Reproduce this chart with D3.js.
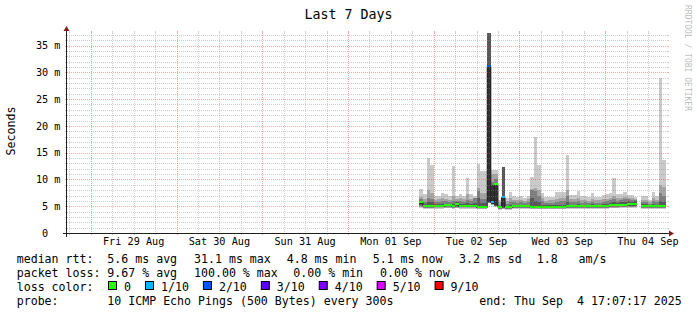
<!DOCTYPE html>
<html><head><meta charset="utf-8">
<script src="https://cdn.jsdelivr.net/npm/d3@7"></script>
<style>
html,body{margin:0;padding:0;background:#fff;}
svg{display:block;}
text{font-family:"DejaVu Sans Mono",monospace;white-space:pre;fill:#000;}
</style></head><body>
<svg id="c" width="697" height="315"></svg>
<script>
// ---------- data ----------
const title = "Last 7 Days";
const yLabel = "Seconds";
const watermark = "RRDTOOL / TOBI OETIKER";
const yTicks = [0, 5, 10, 15, 20, 25, 30, 35];
const yMax = 37.35;                       // ms
const firstSample = new Date(2025, 8, 1, 20, 0, 0);   // hourly samples
const graphEnd = new Date(2025, 8, 4, 17, 20, 0);

const median = [5.7,5.05,5.05,5.05,5.1,5.1,5.1,5.2,5.2,5.05, 5.4,5.1,5.1,5.1,5.1,5.1,4.9,4.9,4.9,31.1, 5.8,9.2,4.8,6.8,4.8,4.8,5.0,5.0,5.0,5.0, 5.0,4.9,4.9,4.9,4.9,4.9,4.9,4.9,4.9,4.9, 4.9,5.0,5.0,5.0,5.0,5.0,5.0,5.0,5.0,5.0, 5.0,5.0,5.0,5.2,5.2,5.2,5.3,5.3,5.5,5.4, 5.5,null,5.0,5.0,5.0,5.0,5.0,5.0,5.1];
const loss = [0,0,0,0,0,0,0,0,0,0, 0,0,0,0,0,0,0,0,0,2, 1,0,0,1,0,0,0,0,0,0, 0,0,0,0,0,0,0,0,0,0, 0,0,0,0,0,0,0,0,0,0, 0,0,0,0,0,0,0,0,0,0, 0,10,0,0,0,0,0,0,0];

// sorted ping slots (ms) per sample, p1 = fastest ... p10 = slowest
const p1 = [4.7,4.5,4.5,4.5,4.55,4.55,4.55,4.6,4.6,4.5, 4.6,4.55,4.55,4.55,4.55,4.55,4.4,4.4,4.4,5.6, 5.2,4.9,4.3,4.4,4.3,4.3,4.45,4.45,4.45,4.45, 4.45,4.4,4.4,4.4,4.4,4.4,4.4,4.4,4.4,4.4, 4.4,4.45,4.45,4.45,4.45,4.45,4.45,4.45,4.45,4.45, 4.45,4.45,4.45,4.6,4.6,4.6,4.65,4.65,4.65,4.65, 4.65,null,4.45,4.45,4.45,4.45,4.45,4.45,4.5];
const p2 = [4.9,4.65,4.65,4.65,4.7,4.7,4.7,4.75,4.75,4.65, 4.75,4.7,4.7,4.7,4.7,4.7,4.5,4.5,4.5,5.6, 5.3,4.95,4.4,4.5,4.4,4.4,4.6,4.6,4.6,4.6, 4.6,4.5,4.5,4.5,4.5,4.5,4.5,4.5,4.5,4.5, 4.5,4.6,4.6,4.6,4.6,4.6,4.6,4.6,4.6,4.6, 4.6,4.6,4.6,4.75,4.75,4.75,4.8,4.8,4.8,4.8, 4.8,null,4.6,4.6,4.6,4.6,4.6,4.6,4.65];
const p3 = [5.1,4.75,4.75,4.75,4.8,4.8,4.8,4.85,4.85,4.75, 4.9,4.8,4.8,4.8,4.8,4.8,4.6,4.6,4.6,5.65, 5.35,5.0,4.5,4.6,4.5,4.5,4.7,4.7,4.7,4.7, 4.7,4.6,4.6,4.6,4.6,4.6,4.6,4.6,4.6,4.6, 4.6,4.7,4.7,4.7,4.7,4.7,4.7,4.7,4.7,4.7, 4.7,4.7,4.7,4.85,4.85,4.85,4.9,4.9,4.95,4.9, 4.95,null,4.7,4.7,4.7,4.7,4.7,4.7,4.75];
const p4 = [5.3,4.85,4.85,4.85,4.9,4.9,4.9,4.95,4.95,4.85, 5.1,4.9,4.9,4.9,4.9,4.9,4.7,4.7,4.7,5.7, 5.4,5.1,4.6,4.7,4.6,4.6,4.8,4.8,4.8,4.8, 4.8,4.7,4.7,4.7,4.7,4.7,4.7,4.7,4.7,4.7, 4.7,4.8,4.8,4.8,4.8,4.8,4.8,4.8,4.8,4.8, 4.8,4.8,4.8,4.95,4.95,4.95,5.0,5.0,5.1,5.0, 5.1,null,4.8,4.8,4.8,4.8,4.8,4.8,4.85];
const p5 = [5.5,4.95,4.95,4.95,5.0,5.0,5.0,5.1,5.1,4.95, 5.3,5.0,5.0,5.0,5.0,5.0,4.8,4.8,4.8,5.7, 5.5,5.2,4.7,4.8,4.7,4.7,4.9,4.9,4.9,4.9, 4.9,4.8,4.8,4.8,4.8,4.8,4.8,4.8,4.8,4.8, 4.8,4.9,4.9,4.9,4.9,4.9,4.9,4.9,4.9,4.9, 4.9,4.9,4.9,5.1,5.1,5.1,5.2,5.2,5.4,5.3, 5.4,null,4.9,4.9,4.9,4.9,4.9,4.9,5.0];
const p6 = [5.8,5.2,5.2,5.2,5.25,5.25,5.25,5.35,5.35,5.2, 5.5,5.25,5.25,5.25,5.25,5.25,5.05,5.05,5.05,31.1, 9.0,9.2,4.95,6.8,4.95,4.95,5.15,5.15,5.15,5.15, 5.15,5.05,5.05,5.05,5.05,5.05,5.05,5.05,5.05,5.05, 5.05,5.15,5.15,5.15,5.15,5.15,5.15,5.15,5.15,5.15, 5.15,5.15,5.15,5.35,5.35,5.35,5.45,5.45,5.65,5.55, 5.65,null,5.15,5.15,5.15,5.15,5.15,5.15,5.25];
const p7 = [6.0,5.4,5.8,5.7,5.4,5.4,5.5,5.5,5.5,5.5, 5.7,5.4,5.4,5.6,5.4,5.6,6.5,5.6,5.6,40, 9.0,9.4,5.0,12.3,5.0,5.2,5.3,5.3,5.3,5.3, 5.3,6.5,6.0,5.8,5.3,5.2,5.2,5.2,5.3,5.3, 5.3,5.8,5.3,5.3,5.4,5.3,5.3,5.3,5.4,5.3, 5.3,5.4,5.4,5.6,5.7,5.6,5.7,5.8,5.9,5.8, 5.9,null,5.4,5.4,5.3,5.5,5.3,6.0,5.8];
const p8 = [6.3,5.8,6.6,6.4,5.7,5.8,5.9,5.9,5.7,6.0, 5.9,5.9,5.8,6.2,5.9,6.5,7.9,6.4,6.4,40, 9.5,10.0,5.3,12.3,5.4,5.8,5.7,5.6,5.7,5.6, 5.7,8.0,7.8,7.0,5.9,5.6,5.6,5.6,5.8,5.9, 5.9,7.0,5.8,5.8,6.0,5.6,5.7,5.6,5.8,5.6, 5.6,5.8,5.9,6.1,6.3,6.0,6.1,6.3,6.3,6.2, 6.1,null,5.8,5.8,5.5,5.9,5.7,7.5,7.0];
const p9 = [6.8,6.3,8.0,7.5,6.2,6.3,6.5,6.4,6.2,7.0, 6.3,6.5,6.3,7.2,6.4,6.6,8.4,7.5,7.5,40, 11.0,11.0,5.8,12.3,6.0,6.5,6.2,6.1,6.2,6.0, 6.3,8.2,8.4,8.0,6.5,6.0,6.1,6.1,6.4,6.5, 6.5,8.0,6.3,6.3,6.6,6.1,6.2,6.0,6.4,6.1, 6.1,6.3,6.4,6.6,7.0,6.5,6.6,6.8,6.6,6.5, 6.3,null,6.2,6.2,5.8,6.5,6.2,9.0,8.5];
const p10 = [8.2,7.2,14.0,12.7,6.9,6.9,7.4,7.2,6.9,12.6, 6.9,7.3,6.9,10.3,7.2,6.9,12.9,11.6,11.6,40, 11.7,11.7,6.2,12.3,6.6,7.7,7.0,6.7,6.9,6.6, 7.0,10.5,18.0,12.7,7.4,6.7,6.7,6.8,7.6,7.6, 7.7,14.6,7.1,7.1,7.9,6.9,6.9,6.8,7.5,6.8, 6.8,7.1,7.3,7.4,10.2,7.3,7.3,7.7,7.1,7.1, 6.8,null,6.9,6.9,6.2,7.7,6.9,29.0,13.7];

const lossSteps  = [0, 1, 2, 3, 4, 5, 9];
const lossLabels = ["0", "1/10", "2/10", "3/10", "4/10", "5/10", "9/10"];
const lossCols   = ["#26ff00", "#00b8ff", "#0059ff", "#5e00ff", "#7e00ff", "#dd00ff", "#ff0000"];
const smokeCols  = ["#cacaca", "#a4a4a4", "#7e7e7e", "#585858", "#323232"];

const legendRtt  = ["median rtt:", "5.6 ms avg", "31.1 ms max", "4.8 ms min", "5.1 ms now", "3.2 ms sd", "1.8   am/s"];
const legendLoss = ["packet loss:", "9.67 % avg", "100.00 % max", "0.00 % min", "0.00 % now"];
const legendLossColor = "loss color:";
const legendProbe = ["probe:", "10 ICMP Echo Pings (500 Bytes) every 300s", "end: Thu Sep  4 17:07:17 2025"];

// ---------- layout ----------
const L = 67, R = 667, T = 33, B = 233;
const svg = d3.select("#c");
const start = d3.timeDay.offset(graphEnd, -7);
const x = d3.scaleTime().domain([start, graphEnd]).range([L, R]);
const y = d3.scaleLinear().domain([0, yMax]).range([B, T]);
const step = 3600 * 1000;
const times = median.map((_, i) => new Date(+firstSample + i * step));
const pings = [p1, p2, p3, p4, p5, p6, p7, p8, p9, p10];
const px = v => Math.round(v) + 0.5;

svg.append("rect").attr("width", 697).attr("height", 315).attr("fill", "#fff");
svg.append("clipPath").attr("id", "pc").append("rect")
  .attr("x", L).attr("y", T).attr("width", R - L).attr("height", B - T);
const gData = svg.append("g").attr("clip-path", "url(#pc)");

// smoke
smokeCols.forEach((c, k) => {
  const lo = pings[k], hi = pings[9 - k];
  gData.append("g").attr("fill", c).attr("shape-rendering", "crispEdges")
    .selectAll("rect")
    .data(times.map((t, i) => ({ t, i })).filter(d => lo[d.i] != null && hi[d.i] != null))
    .join("rect")
    .attr("x", d => x(d.t))
    .attr("width", d => x(new Date(+d.t + step)) - x(d.t))
    .attr("y", d => y(hi[d.i]))
    .attr("height", d => y(lo[d.i]) - y(hi[d.i]));
});

// median line
const pts = [];
times.forEach((t, i) => { pts.push({ t, v: median[i] }); pts.push({ t: new Date(+t + step), v: median[i] }); });
gData.append("path").datum(pts)
  .attr("fill", "none").attr("stroke", "#202020").attr("stroke-width", 1)
  .attr("d", d3.line().defined(d => d.v != null).x(d => x(d.t)).y(d => Math.round(y(d.v)) + 0.5));

// loss coloured median bands
function lossColor(l) {
  const j = lossSteps.findIndex(s => l <= s);
  return j < 0 ? null : lossCols[j];
}
const sw = yMax / 200;
gData.append("g").attr("shape-rendering", "crispEdges").selectAll("rect")
  .data(times.map((t, i) => ({ t, i })).filter(d => median[d.i] != null && lossColor(loss[d.i])))
  .join("rect")
  .attr("x", d => x(d.t))
  .attr("width", d => x(new Date(+d.t + step)) - x(d.t))
  .attr("y", d => y(median[d.i] + sw))
  .attr("height", d => y(median[d.i] - sw) - y(median[d.i] + sw))
  .attr("fill", d => lossColor(loss[d.i]));

// grid
const gridCol = "rgba(140,140,140,0.42)";
const mgridCol = "rgba(222,79,79,0.5)";
const gGrid = svg.append("g").attr("stroke-width", 1).attr("shape-rendering", "crispEdges");
const hMinor = d3.range(1, Math.floor(yMax) + 1).filter(v => v % 5 !== 0);
const hMajor = yTicks.filter(v => v > 0);
function hLine(v, col) {
  const yy = px(y(v));
  gGrid.append("line").attr("x1", L).attr("x2", R).attr("y1", yy).attr("y2", yy)
    .attr("stroke", col).attr("stroke-dasharray", "1,1");
  gGrid.append("line").attr("x1", L - 2).attr("x2", L).attr("y1", yy).attr("y2", yy).attr("stroke", col);
  gGrid.append("line").attr("x1", R).attr("x2", R + 2).attr("y1", yy).attr("y2", yy).attr("stroke", col);
}
hMinor.forEach(v => hLine(v, gridCol));
hMajor.forEach(v => hLine(v, mgridCol));

const days = d3.timeDay.range(d3.timeDay.ceil(start), graphEnd);
const sixH = d3.timeHour.every(6).range(start, graphEnd).filter(t => t.getHours() !== 0);
function vLine(t, col) {
  const xx = px(x(t));
  gGrid.append("line").attr("x1", xx).attr("x2", xx).attr("y1", T).attr("y2", B)
    .attr("stroke", col).attr("stroke-dasharray", "1,1");
  gGrid.append("line").attr("x1", xx).attr("x2", xx).attr("y1", T - 2).attr("y2", T).attr("stroke", col);
  gGrid.append("line").attr("x1", xx).attr("x2", xx).attr("y1", B).attr("y2", B + 2).attr("stroke", col);
}
sixH.forEach(t => vLine(t, gridCol));
days.forEach(t => vLine(t, mgridCol));

// axes
const gAx = svg.append("g").attr("shape-rendering", "crispEdges");
gAx.append("line").attr("x1", L - 4).attr("x2", R + 4).attr("y1", B + 0.5).attr("y2", B + 0.5)
  .attr("stroke", "#1f1f1f");
gAx.append("line").attr("x1", L - 0.5).attr("x2", L - 0.5).attr("y1", B + 4).attr("y2", T - 4)
  .attr("stroke", "#1f1f1f");
svg.append("path").attr("fill", "#7f1f1f")
  .attr("d", `M${R + 2},${B - 2.5}L${R + 2},${B + 3.5}L${R + 7},${B + 0.5}Z`);
svg.append("path").attr("fill", "#7f1f1f")
  .attr("d", `M${L - 3.5},${T - 2}L${L + 2.5},${T - 2}L${L - 0.5},${T - 7}Z`);

// y tick labels
svg.append("g").selectAll("text").data(yTicks).join("text")
  .attr("x", 60.5).attr("y", d => y(d)).attr("dy", "0.36em")
  .attr("text-anchor", "end").attr("font-size", "10.2px")
  .text(d => d === 0 ? "0\u00a0\u00a0" : d + " m");

// x labels at noon
const fmt = d3.timeFormat("%a %d %b");
svg.append("g").selectAll("text")
  .data(days.map(d => d3.timeHour.offset(d, 12)).filter(t => t < graphEnd))
  .join("text")
  .attr("x", d => x(d)).attr("y", 244.5).attr("text-anchor", "middle").attr("font-size", "10.2px")
  .text(d => fmt(d));

// titles
svg.append("text").attr("x", 348.5).attr("y", 18.5).attr("text-anchor", "middle")
  .attr("font-size", "13.3px").text(title);
svg.append("text").attr("transform", "translate(15,131) rotate(-90)").attr("text-anchor", "middle")
  .attr("font-size", "11.6px").text(yLabel);
svg.append("text").attr("transform", "translate(685,5) rotate(90)").attr("font-size", "8px")
  .style("fill", "rgba(0,0,0,0.3)").text(watermark);

// legend
const LF = "11.6px";
function row(items, xs, yb) {
  items.forEach((s, i) => svg.append("text").attr("x", xs[i]).attr("y", yb).attr("font-size", LF).text(s));
}
row(legendRtt, [16.7, 107.3, 194, 286.7, 372.7, 459, 536.7], 263);
row(legendLoss, [16.7, 107.3, 194, 293.3, 380], 277);
row([legendLossColor], [16.7], 291);
let bx = 108.5;
lossLabels.forEach((lab, i) => {
  svg.append("rect").attr("x", bx).attr("y", 281.5).attr("width", 8).attr("height", 8)
    .attr("fill", lossCols[i]).attr("stroke", "#000").attr("stroke-width", 1);
  const t = svg.append("text").attr("x", bx + 15.5).attr("y", 291).attr("font-size", LF).text(lab);
  bx = bx + 15.5 + t.node().getComputedTextLength() + 14.5;
});
row(legendProbe, [16.7, 107.3, 479.3], 305);
</script>
</body></html>
